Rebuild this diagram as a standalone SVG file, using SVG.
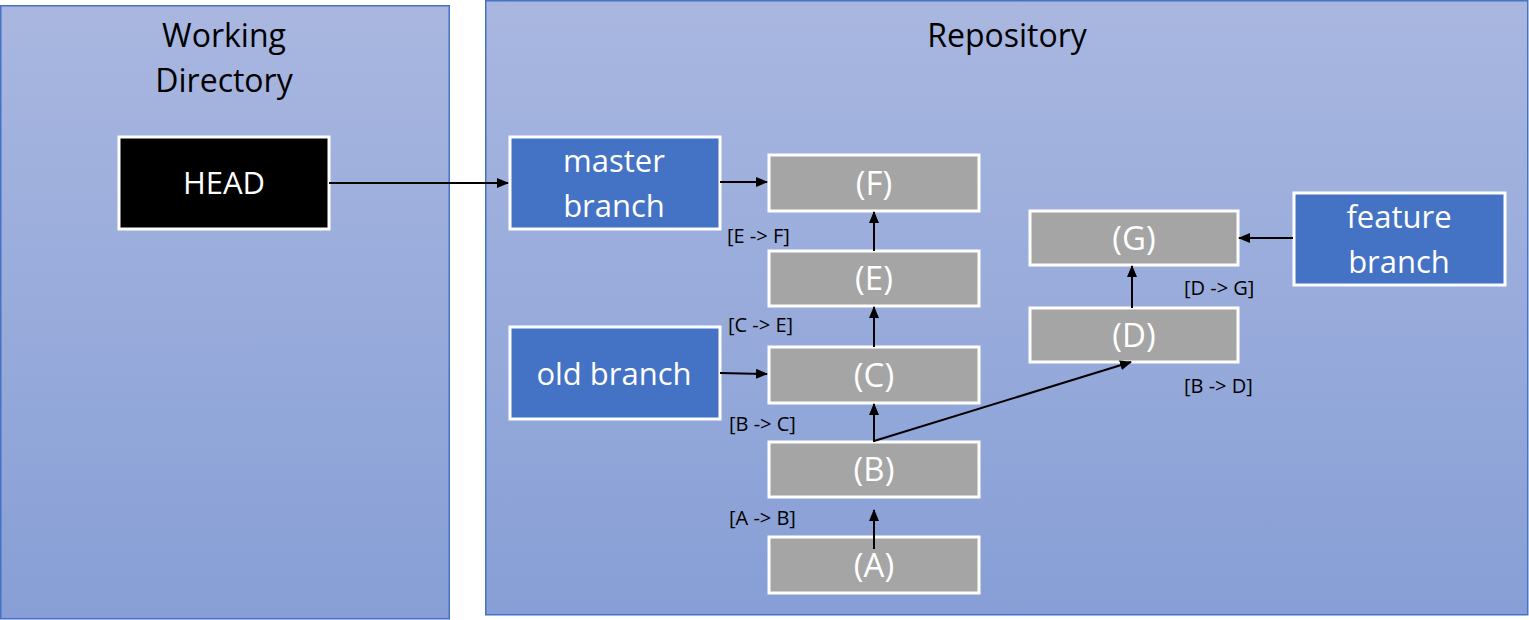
<svg xmlns="http://www.w3.org/2000/svg" width="1529" height="620" viewBox="0 0 1529 620">
<defs>
<linearGradient id="bg" x1="0" y1="0" x2="0" y2="1">
<stop offset="0" stop-color="#a9b7e0"/>
<stop offset="1" stop-color="#879fd6"/>
</linearGradient>
<marker id="ah" markerWidth="12" markerHeight="10" refX="11" refY="5" orient="auto" markerUnits="userSpaceOnUse">
<path d="M0,0 L12,5 L0,10 Z" fill="#000"/>
</marker>
</defs>
<style>
.panel{fill:url(#bg);stroke:#4472c4;stroke-width:1.5}
.title{font-family:"Open Sans","Liberation Sans",sans-serif;font-size:32px;fill:#000;text-anchor:middle}
.ref{fill:#4472c4;stroke:#fff;stroke-width:3}
.head{fill:#000;stroke:#fff;stroke-width:3}
.commit{fill:#a5a5a5;stroke:#fff;stroke-width:3}
.lbl{font-family:"Open Sans","Liberation Sans",sans-serif;font-size:31px;fill:#fff;text-anchor:middle}
.clbl{font-family:"Open Sans","Liberation Sans",sans-serif;font-size:33px;fill:#fff;text-anchor:middle}
.small{font-family:"Open Sans","Liberation Sans",sans-serif;font-size:20px;fill:#000}
.conn line{stroke:#000;stroke-width:2;marker-end:url(#ah)}
</style>
<g id="working-directory">
<rect class="panel" x="0.75" y="5.75" width="448.5" height="613"/>
<text class="title" x="224" y="47">Working</text>
<text class="title" x="224" y="92">Directory</text>
</g>
<g id="repository">
<rect class="panel" x="485.75" y="0.75" width="1042" height="614"/>
<text class="title" x="1007" y="47">Repository</text>
</g>
<g id="head">
<rect class="head" x="119" y="137" width="210" height="92"/>
<text class="lbl" x="224" y="194">HEAD</text>
</g>
<g id="master-branch">
<rect class="ref" x="510" y="137" width="210" height="92"/>
<text class="lbl" x="614" y="172">master</text>
<text class="lbl" x="614" y="217">branch</text>
</g>
<g id="old-branch">
<rect class="ref" x="510" y="327" width="210" height="92"/>
<text class="lbl" x="614" y="385">old branch</text>
</g>
<g id="feature-branch">
<rect class="ref" x="1294" y="193" width="211" height="92"/>
<text class="lbl" x="1399" y="228">feature</text>
<text class="lbl" x="1399" y="273">branch</text>
</g>
<g id="commit-f">
<rect class="commit" x="769" y="155" width="210" height="56"/>
<text class="clbl" x="874" y="195">(F)</text>
</g>
<g id="commit-e">
<rect class="commit" x="769" y="251" width="210" height="55"/>
<text class="clbl" x="874" y="290">(E)</text>
</g>
<g id="commit-c">
<rect class="commit" x="769" y="347" width="210" height="56"/>
<text class="clbl" x="874" y="387">(C)</text>
</g>
<g id="commit-b">
<rect class="commit" x="769" y="442" width="210" height="55"/>
<text class="clbl" x="874" y="481">(B)</text>
</g>
<g id="commit-a">
<rect class="commit" x="769" y="537" width="210" height="56"/>
<text class="clbl" x="874" y="577">(A)</text>
</g>
<g id="commit-g">
<rect class="commit" x="1030" y="211" width="208" height="54"/>
<text class="clbl" x="1134" y="250">(G)</text>
</g>
<g id="commit-d">
<rect class="commit" x="1030" y="308" width="208" height="54"/>
<text class="clbl" x="1134" y="347">(D)</text>
</g>
<g id="connectors" class="conn">
<line x1="329" y1="183" x2="508" y2="183"/>
<line x1="720" y1="182" x2="767" y2="182"/>
<line x1="874" y1="251" x2="874" y2="212"/>
<line x1="874" y1="347" x2="874" y2="307"/>
<line x1="874" y1="442" x2="874" y2="404"/>
<line x1="874" y1="549" x2="874" y2="510"/>
<line x1="720" y1="373" x2="767" y2="374"/>
<polyline points="874,441 1131,362" fill="none" stroke="#000" stroke-width="2" marker-end="url(#ah)"/>
<line x1="1132" y1="308" x2="1132" y2="266"/>
<line x1="1293" y1="238" x2="1239" y2="238"/>
</g>
<g id="labels">
<text class="small" x="727" y="243">[E -&gt; F]</text>
<text class="small" x="728" y="332">[C -&gt; E]</text>
<text class="small" x="729" y="431">[B -&gt; C]</text>
<text class="small" x="729" y="525">[A -&gt; B]</text>
<text class="small" x="1184" y="295">[D -&gt; G]</text>
<text class="small" x="1184" y="393">[B -&gt; D]</text>
</g>
</svg>
